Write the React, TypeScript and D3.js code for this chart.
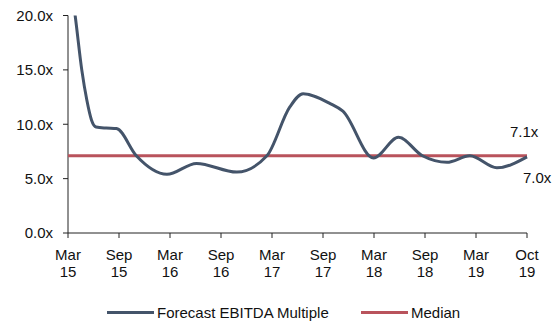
import React from "react";
import * as d3 from "d3";

// Half-year tick labels along the x axis (index = position on the axis)
const tickMonths = ["Mar", "Sep", "Mar", "Sep", "Mar", "Sep", "Mar", "Sep", "Mar", "Oct"];
const tickYears = ["15", "15", "16", "16", "17", "17", "18", "18", "19", "19"];

// Forecast EBITDA multiple: position in tick units, value in x
const seriesPos = [0, 0.14, 0.27, 0.37, 0.46, 0.55, 0.75, 0.95, 1.34, 1.94, 2.52, 3.31, 3.9, 4.35, 4.61, 5.14, 5.39, 5.99, 6.48, 6.95, 7.43, 7.88, 8.41, 9.0];
const seriesVal = [24.5, 20, 15, 12.2, 10.4, 9.75, 9.65, 9.6, 7.1, 5.4, 6.4, 5.6, 7.1, 11.6, 12.8, 11.9, 11.2, 6.9, 8.8, 7.1, 6.5, 7.1, 6.0, 7.0];

const medianValue = 7.1;
const lastValue = 7.0;
const yTicks = [0, 5, 10, 15, 20];

const W = 558;
const H = 322;
const M = { left: 68, right: 31, top: 15.5, bottom: 89 };

const LINE = "#44546A";
const MEDIAN = "#B9535C";
const FONT = "'Liberation Sans', Arial, sans-serif";

export default function App() {
  const x = d3.scaleLinear().domain([0, 9]).range([M.left, W - M.right]);
  const y = d3.scaleLinear().domain([0, 20]).range([H - M.bottom, M.top]);

  const data = seriesPos.map((p, i) => ({ p, v: seriesVal[i] }));
  const line = d3
    .line<{ p: number; v: number }>()
    .x((d) => x(d.p))
    .y((d) => y(d.v))
    .curve(d3.curveMonotoneX);

  const x0 = x(0);
  const x1 = x(9);
  const yBase = y(0);

  return (
    <svg
      width={W}
      height={H}
      style={{ position: "absolute", left: 0, top: 0 }}
      fontFamily={FONT}
    >
      <defs>
        <clipPath id="plot-clip">
          <rect x={x0} y={y(20)} width={x1 - x0 + 10} height={yBase - y(20)} />
        </clipPath>
      </defs>

      {/* y axis */}
      <line x1={x0} x2={x0} y1={y(20)} y2={yBase} stroke="#222" strokeWidth={1} />
      {yTicks.map((t) => (
        <g key={t}>
          <line x1={x0 - 5} x2={x0} y1={y(t)} y2={y(t)} stroke="#222" strokeWidth={1} />
          <text x={x0 - 15} y={y(t)} dy="0.35em" textAnchor="end" fontSize={15} fill="#111">
            {t.toFixed(1) + "x"}
          </text>
        </g>
      ))}

      {/* x axis */}
      <line x1={x0} x2={x1} y1={yBase} y2={yBase} stroke="#222" strokeWidth={1} />
      {tickMonths.map((m, i) => (
        <g key={i}>
          <line x1={x(i)} x2={x(i)} y1={yBase} y2={yBase + 5} stroke="#222" strokeWidth={1} />
          <text x={x(i)} y={yBase + 27} textAnchor="middle" fontSize={15} fill="#111">
            {m}
          </text>
          <text x={x(i)} y={yBase + 44} textAnchor="middle" fontSize={15} fill="#111">
            {tickYears[i]}
          </text>
        </g>
      ))}

      {/* median */}
      <line
        x1={x0}
        x2={x1}
        y1={y(medianValue)}
        y2={y(medianValue)}
        stroke={MEDIAN}
        strokeWidth={3}
      />

      {/* forecast multiple */}
      <path
        d={line(data) ?? ""}
        fill="none"
        stroke={LINE}
        strokeWidth={3}
        strokeLinejoin="round"
        clipPath="url(#plot-clip)"
      />

      {/* end labels */}
      <text x={x1 - 17} y={y(medianValue) - 19} fontSize={15} fill="#111">
        {medianValue.toFixed(1) + "x"}
      </text>
      <text x={x1 - 4} y={y(lastValue) + 26} fontSize={15} fill="#111">
        {lastValue.toFixed(1) + "x"}
      </text>

      {/* legend */}
      <g transform="translate(0,312.5)">
        <line x1={107} x2={154} y1={0} y2={0} stroke={LINE} strokeWidth={3} />
        <text x={157} y={0} dy="0.35em" fontSize={15} fill="#111">
          Forecast EBITDA Multiple
        </text>
        <line x1={361} x2={408} y1={0} y2={0} stroke={MEDIAN} strokeWidth={3} />
        <text x={411} y={0} dy="0.35em" fontSize={15} fill="#111">
          Median
        </text>
      </g>
    </svg>
  );
}
